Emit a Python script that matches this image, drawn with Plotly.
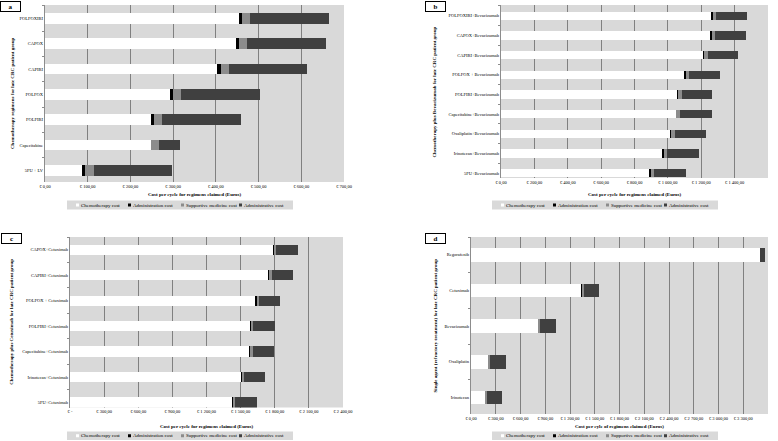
import plotly.graph_objects as go

W, H = 778, 441
FONT = "Liberation Serif"

series_names = ["Chemotherapy cost", "Administration cost", "Supportive medicine cost", "Administrative cost"]
series_colors = ["#ffffff", "#000000", "#8c8c8c", "#404040"]

# ---------------- Panel a ----------------
cats_a = ["FOLFOXIRI", "CAPOX", "CAPIRI", "FOLFOX", "FOLFIRI", "Capecitabine", "5FU + LV"]
chemo_a = [454, 448, 403, 293, 248, 247, 87]
admin_a = [8, 7, 8, 7, 7, 0, 7]
supp_a = [19, 19, 19, 19, 20, 19, 20]
adm_a = [185, 185, 184, 185, 185, 50, 184]
tickvals_a = [0, 100, 200, 300, 400, 500, 600, 700]
ticktext_a = ["€ 0,00", "€ 100,00", "€ 200,00", "€ 300,00", "€ 400,00", "€ 500,00", "€ 600,00", "€ 700,00"]

# ---------------- Panel b ----------------
cats_b = ["FOLFOXIRI+Bevacizumab", "CAPOX+Bevacizumab", "CAPIRI+Bevacizumab", "FOLFOX + Bevacizumab",
          "FOLFIRI+Bevacizumab", "Capecitabine+Bevacizumab", "Oxaliplatin+Bevacizumab",
          "Irinotecan+Bevacizumab", "5FU+Bevacizumab"]
chemo_b = [1264, 1256, 1212, 1102, 1056, 1048, 1014, 970, 892]
admin_b = [7, 7, 7, 7, 7, 0, 7, 7, 7]
supp_b = [19, 19, 19, 19, 19, 25, 19, 19, 19]
adm_b = [185, 185, 185, 185, 185, 190, 188, 188, 188]
tickvals_b = [0, 200, 400, 600, 800, 1000, 1200, 1400, 1600]
ticktext_b = ["€ 0,00", "€ 200,00", "€ 400,00", "€ 600,00", "€ 800,00", "€ 1 000,00", "€ 1 200,00",
              "€ 1 400,00", "€ 1 600,00"]

# ---------------- Panel c ----------------
cats_c = ["CAPOX+Cetuximab", "CAPIRI+Cetuximab", "FOLFOX + Cetuximab", "FOLFIRI+Cetuximab",
          "Capecitabine+Cetuximab", "Irinotecan+Cetuximab", "5FU+Cetuximab"]
chemo_c = [1787, 1746, 1634, 1587, 1581, 1505, 1426]
admin_c = [7, 7, 7, 7, 5, 7, 7]
supp_c = [19, 19, 19, 19, 20, 19, 19]
adm_c = [188, 188, 185, 188, 190, 185, 188]
tickvals_c = [0, 300, 600, 900, 1200, 1500, 1800, 2100, 2400]
ticktext_c = ["€ -", "€ 300,00", "€ 600,00", "€ 900,00", "€ 1 200,00", "€ 1 500,00", "€ 1 800,00",
              "€ 2 100,00", "€ 2 400,00"]

# ---------------- Panel d ----------------
cats_d = ["Regorafenib", "Cetuximab", "Bevacizumab", "Oxaliplatin", "Irinotecan"]
chemo_d = [3497, 1343, 813, 210, 170]
admin_d = [0, 7, 7, 7, 7]
supp_d = [0, 19, 19, 19, 19]
adm_d = [72, 188, 188, 185, 184]
tickvals_d = [0, 300, 600, 900, 1200, 1500, 1800, 2100, 2400, 2700, 3000, 3300, 3600]
ticktext_d = ["€ 0,00", "€ 300,00", "€ 600,00", "€ 900,00", "€ 1 200,00", "€ 1 500,00", "€ 1 800,00",
              "€ 2 100,00", "€ 2 400,00", "€ 2 700,00", "€ 3 000,00", "€ 3 300,00", "€ 3 600,00"]


def px(p):
    return p / W


def py(p):
    return 1 - p / H


panels = [
    dict(cats=cats_a, vals=[chemo_a, admin_a, supp_a, adm_a], tv=tickvals_a, tt=ticktext_a,
         xr=[0, 700], yr=[6.46, -0.53], box=(45, 344, 5, 182), bw=0.42, label="a", lab=(0, 1),
         xt="Cost per cycle for regimens claimed (Euros)", xty=194.5,
         yt="Chemotherapy regimens for late CRC patient group", ytx=12.5,
         leg=(67, 293, 200.5, 209.5)),
    dict(cats=cats_b, vals=[chemo_b, admin_b, supp_b, adm_b], tv=tickvals_b, tt=ticktext_b,
         xr=[0, 1600], yr=[8.25, -0.55], box=(501, 768, 5, 178), bw=0.42, label="b", lab=(425, 1),
         xt="Cost per cycle for regimens claimed (Euros)", xty=194.5,
         yt="Chemotherapy plus Bevacizumab for late CRC patient group", ytx=434,
         leg=(492, 718, 200.5, 209.5)),
    dict(cats=cats_c, vals=[chemo_c, admin_c, supp_c, adm_c], tv=tickvals_c, tt=ticktext_c,
         xr=[0, 2400], yr=[6.2, -0.5], box=(70, 343, 237, 407.5), bw=0.40, label="c", lab=(1, 233.5),
         xt="Cost per cycle for regimens claimed (Euros)", xty=426,
         yt="Chemotherapy plus Cetuximab for late CRC patient group", ytx=11.5,
         leg=(67, 293, 431.5, 440)),
    dict(cats=cats_d, vals=[chemo_d, admin_d, supp_d, adm_d], tv=tickvals_d, tt=ticktext_d,
         xr=[0, 3600], yr=[4.46, -0.5], box=(471, 768, 237, 414), bw=0.38, label="d", lab=(425, 233.5),
         xt="Cost per cyle of regimens claimed (Euros)", xty=426,
         yt="Single agent (refractory treatment) for late CRC patient group", ytx=435,
         leg=(492, 718, 431.5, 440)),
]

fig = go.Figure()
annotations = []
shapes = []
layout_axes = {}

for i, p in enumerate(panels, start=1):
    sfx = "" if i == 1 else str(i)
    for name, color, v in zip(series_names, series_colors, p["vals"]):
        fig.add_trace(go.Bar(
            y=p["cats"], x=v, orientation="h", name=name, width=p["bw"],
            marker=dict(color=color, line=dict(width=0)),
            xaxis="x" + sfx, yaxis="y" + sfx, showlegend=False,
        ))
    x0, x1, y0, y1 = p["box"]
    layout_axes["xaxis" + sfx] = dict(
        domain=[px(x0), px(x1)], anchor="y" + sfx, range=p["xr"], automargin=False,
        tickvals=p["tv"], ticktext=p["tt"], showgrid=True, gridcolor="#808080", gridwidth=1,
        zeroline=False, showline=False, ticks="",
        tickfont=dict(family=FONT, size=4.5, color="#000"),
    )
    layout_axes["yaxis" + sfx] = dict(
        domain=[py(y1), py(y0)], anchor="x" + sfx, range=p["yr"], type="category", automargin=False,
        showgrid=False, zeroline=False, showline=True, linecolor="#8c8c8c", linewidth=1,
        ticks="outside", tickson="boundaries", ticklen=2, tickcolor="#8c8c8c",
        tickfont=dict(family=FONT, size=4.5, color="#000"),
    )
    # axis titles
    annotations.append(dict(
        x=px((x0 + x1) / 2), y=py(p["xty"]), xref="paper", yref="paper", showarrow=False,
        text="<b>%s</b>" % p["xt"], font=dict(family=FONT, size=5, color="#000"),
        xanchor="center", yanchor="middle",
    ))
    annotations.append(dict(
        x=px(p["ytx"]), y=py((y0 + y1) / 2), xref="paper", yref="paper", showarrow=False,
        text="<b>%s</b>" % p["yt"], textangle=-90, font=dict(family=FONT, size=5, color="#000"),
        xanchor="center", yanchor="middle",
    ))
    # panel label
    lx, ly = p["lab"]
    annotations.append(dict(
        x=px(lx), y=py(ly), xref="paper", yref="paper", showarrow=False, text="<b>%s</b>" % p["label"],
        font=dict(family=FONT, size=7, color="#000"), xanchor="left", yanchor="top",
        bordercolor="#000", borderwidth=1, borderpad=0, width=19, height=9, bgcolor="#fff",
    ))
    # legend box
    lx0, lx1, ly0, ly1 = p["leg"]
    shapes.append(dict(type="rect", xref="paper", yref="paper", x0=px(lx0), x1=px(lx1),
                       y0=py(ly1), y1=py(ly0), fillcolor="#d9d9d9", line=dict(width=0), layer="below"))
    offs = [9, 61, 114, 172]
    yc = (ly0 + ly1) / 2
    for off, name, color in zip(offs, series_names, series_colors):
        sx = lx0 + off
        shapes.append(dict(type="rect", xref="paper", yref="paper", x0=px(sx), x1=px(sx + 3),
                           y0=py(yc + 1.5), y1=py(yc - 1.5), fillcolor=color, line=dict(width=0)))
        annotations.append(dict(
            x=px(sx + 3.5), y=py(yc), xref="paper", yref="paper", showarrow=False, text=name,
            font=dict(family=FONT, size=5, color="#000"), xanchor="left", yanchor="middle",
            borderpad=0,
        ))

fig.update_layout(
    template="none",
    width=W, height=H, margin=dict(l=0, r=0, t=0, b=0, autoexpand=False),
    paper_bgcolor="#ffffff", plot_bgcolor="#d9d9d9",
    barmode="stack", showlegend=False, hovermode=False,
    annotations=annotations, shapes=shapes,
    font=dict(family=FONT, size=5, color="#000"),
    **layout_axes,
)

fig.write_html("out.html", config={"displayModeBar": False},
               post_script="document.body.style.margin='0';document.body.style.overflow='hidden';")
